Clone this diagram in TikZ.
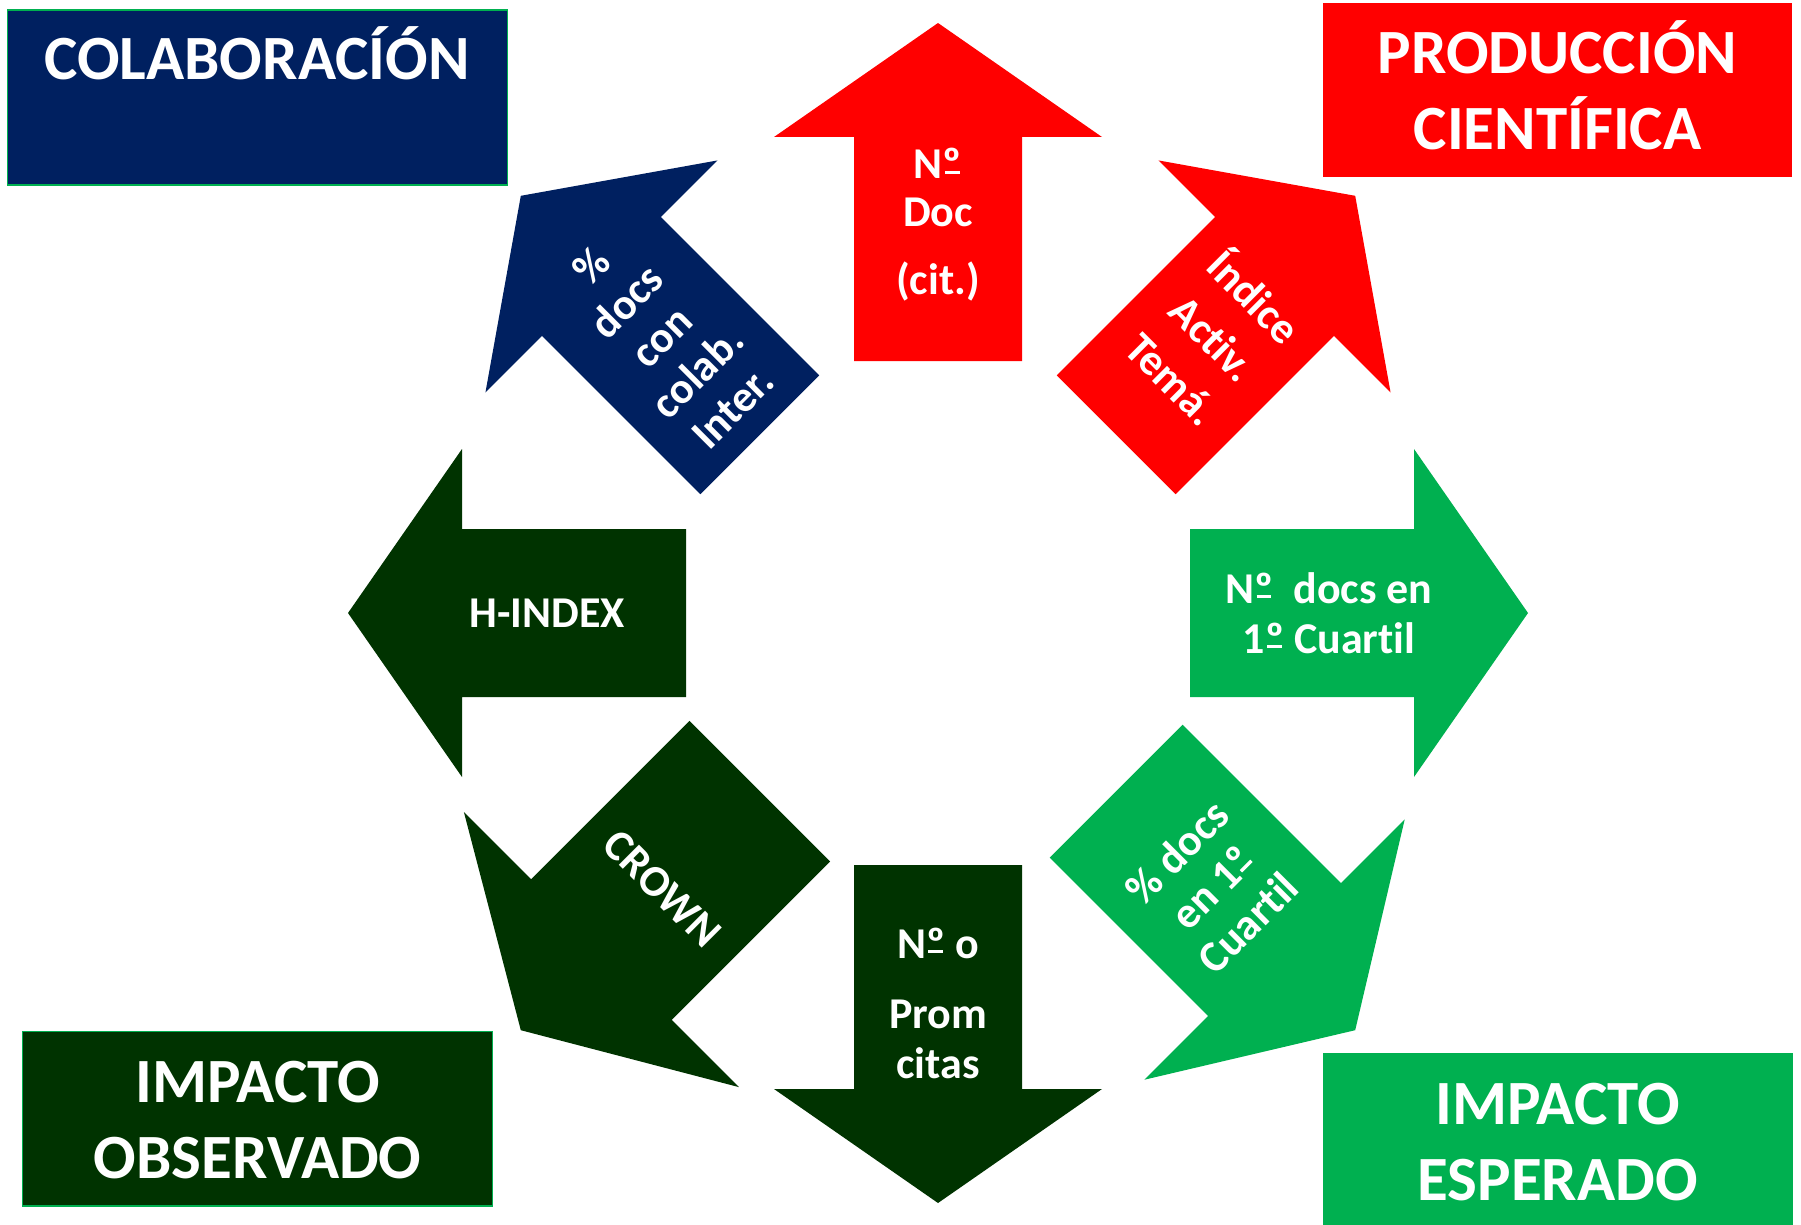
\documentclass[tikz,border=0pt]{standalone}
\usepackage{fontspec}
\setmainfont[Ligatures=CommonOff]{Carlito}
\definecolor{navyc}{HTML}{002060}
\definecolor{redc}{HTML}{FF0000}
\definecolor{dgreen}{HTML}{003300}
\definecolor{lgreen}{HTML}{00B050}
% underlined masculine ordinal, as Calibri draws it
\newcommand\ordm{\leavevmode\setbox0\hbox{º}%
  \rlap{\hspace{0.05em}\rule[0.11em]{\dimexpr\wd0-0.1em\relax}{0.075em}}\box0}
% #1 name, #2 direction, #3 colour, #4 shaft half width, #5 head half width,
% #6 label rotation, #7 label distance, #8 label text
\newcommand\radarrow[8]{%
  \begin{scope}[shift={(938,613)}, rotate=#2]
    \fill[#3] (252,#4) -- (476,#4) -- (476,#5) -- (590,0) -- (476,-#5)
      -- (476,-#4) -- (252,-#4) -- cycle;
    \node[lbl, rotate=#6] (#1) at (#7,0) {#8};
  \end{scope}}
\begin{document}
\begin{tikzpicture}[x=1pt,y=-1pt,
  lbl/.style={text=white, font=\fontsize{44}{50}\selectfont\bfseries, align=center, inner sep=0pt},
  head/.style={text=white, font=\fontsize{63}{76}\selectfont\bfseries, align=center, inner sep=0pt, anchor=base},
  box/.style={anchor=north west, inner sep=0pt, outer sep=0pt}]
\useasboundingbox (0,0) rectangle (1801,1225);
\fill[white] (0,0) rectangle (1801,1225);

% corner boxes
\node[box, fill=navyc, draw=lgreen, line width=1.5pt, minimum width=500pt, minimum height=175pt] (colbox) at (7.3,10) {};
\node[box, fill=redc, minimum width=469.3pt, minimum height=173.4pt] (prodbox) at (1322.7,3.3) {};
\node[box, fill=dgreen, draw=lgreen, line width=1.5pt, minimum width=470pt, minimum height=174.3pt] (obsbox) at (22.7,1031.7) {};
\node[box, fill=lgreen, minimum width=470pt, minimum height=175pt] (espbox) at (1322.7,1052.7) {};

% heading texts (base anchor = baseline of the last line)
\node[head] (colab) at (257,80) {COLABORACÍÓN};
\node[head] (prod) at (1557.5,149.5) {PRODUCCIÓN\\CIENTÍFICA};
\node[head] (obs) at (257.7,1178.3) {IMPACTO\\OBSERVADO};
\node[head] (esp) at (1557.7,1200) {IMPACTO\\ESPERADO};

% radial arrows
\radarrow{a1}{90}{redc}{84}{164}{0}{388}{N\ordm\\[-2pt]Doc\\[18pt](cit.)}
\radarrow{a2}{45}{redc}{84}{164}{-45}{392}{Índice\\[8pt]Activ.\\[8pt]Temá.}
\radarrow{a3}{0}{lgreen}{84}{164}{0}{391}{N\ordm~~docs en\\1\ordm{} Cuartil}
\radarrow{a4}{-45}{lgreen}{94}{184}{45}{388}{\% docs\\en 1\ordm\\Cuartil}
\radarrow{a5}{-90}{dgreen}{84}{164}{0}{390}{N\ordm{} o\\[20pt]Prom\\citas}
\radarrow{a6}{-135}{dgreen}{99.5}{194.5}{-45}{390}{CROWN}
\radarrow{a7}{180}{dgreen}{84}{164}{0}{391}{H-INDEX}
\radarrow{a8}{135}{navyc}{84}{164}{45}{391}{\%\\docs\\con\\colab.\\Inter.}
\end{tikzpicture}
\end{document}
